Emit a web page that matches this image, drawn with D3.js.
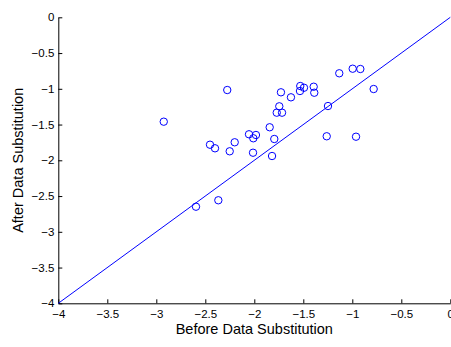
<!DOCTYPE html>
<html>
<head>
<meta charset="utf-8">
<script src="https://cdn.jsdelivr.net/npm/d3@7"></script>
<style>
  html, body { margin: 0; padding: 0; background: #fff; }
  svg { display: block; }
  text { font-family: "Liberation Sans", Arial, Helvetica, sans-serif; fill: #000; }
</style>
</head>
<body>
<svg id="chart" width="451" height="347"></svg>
<script>
// Log-scale scores of each item before and after the data substitution step
const beforeValues = [
  -2.924, -2.595, -2.367, -2.452, -2.401, -2.276, -2.251, -2.200,
  -2.054, -1.983, -2.010, -2.013, -1.819, -1.796, -1.843, -1.771,
  -1.717, -1.745, -1.728, -1.626, -1.531, -1.493, -1.534, -1.394,
  -1.388, -1.248, -1.261, -1.133, -0.996, -0.918, -0.962, -0.782
];
const afterValues = [
  -1.460, -2.649, -2.559, -1.782, -1.832, -1.017, -1.874, -1.748,
  -1.636, -1.646, -1.692, -1.894, -1.940, -1.702, -1.538, -1.334,
  -1.334, -1.245, -1.049, -1.119, -0.961, -0.985, -1.031, -0.971,
  -1.055, -1.241, -1.664, -0.783, -0.719, -0.723, -1.670, -1.003
];
// Reference line y = x
const identityLine = [-4, 0];
const xTicks = [-4, -3.5, -3, -2.5, -2, -1.5, -1, -0.5, 0];
const yTicks = [-4, -3.5, -3, -2.5, -2, -1.5, -1, -0.5, 0];

const svg = d3.select("#chart");
const x = d3.scaleLinear().domain([-4, 0]).range([58.3, 450.3]);
const y = d3.scaleLinear().domain([-4, 0]).range([303.3, 17.3]);
const fmt = d => d3.format("")(d).replace("-", "\u2212");

// Bottom axis, ticks pointing inward
const gx = svg.append("g").attr("transform", `translate(0,${y(-4)})`)
  .call(d3.axisBottom(x).tickValues(xTicks).tickSizeInner(-4).tickSizeOuter(0).tickPadding(7).tickFormat(fmt));
// Left axis, ticks pointing inward
const gy = svg.append("g").attr("transform", `translate(${x(-4)},0)`)
  .call(d3.axisLeft(y).tickValues(yTicks).tickSizeInner(-4).tickSizeOuter(0).tickPadding(4).tickFormat(fmt));

[gx, gy].forEach(g => {
  g.select(".domain").attr("stroke", "#000").attr("stroke-width", 1);
  g.selectAll(".tick line").attr("stroke", "#000");
  g.selectAll(".tick text").attr("font-size", 11.5)
    .attr("font-family", "Liberation Sans, Arial, sans-serif").attr("fill", "#000");
});

// Identity line
svg.append("line")
  .attr("x1", x(identityLine[0])).attr("y1", y(identityLine[0]))
  .attr("x2", x(identityLine[1])).attr("y2", y(identityLine[1]))
  .attr("stroke", "#0000ff").attr("stroke-width", 1);

// Scatter markers
svg.append("g").selectAll("circle")
  .data(beforeValues.map((b, i) => [b, afterValues[i]]))
  .join("circle")
  .attr("cx", d => x(d[0])).attr("cy", d => y(d[1]))
  .attr("r", 3.7)
  .attr("fill", "none").attr("stroke", "#0000ff").attr("stroke-width", 1);

// Axis titles
svg.append("text")
  .attr("x", (x(-4) + x(0)) / 2).attr("y", 334)
  .attr("text-anchor", "middle").attr("font-size", 14.5)
  .text("Before Data Substitution");
svg.append("text")
  .attr("transform", `translate(23,${(y(-4) + y(0)) / 2}) rotate(-90)`)
  .attr("text-anchor", "middle").attr("font-size", 14.5)
  .text("After Data Substitution");
</script>
</body>
</html>
